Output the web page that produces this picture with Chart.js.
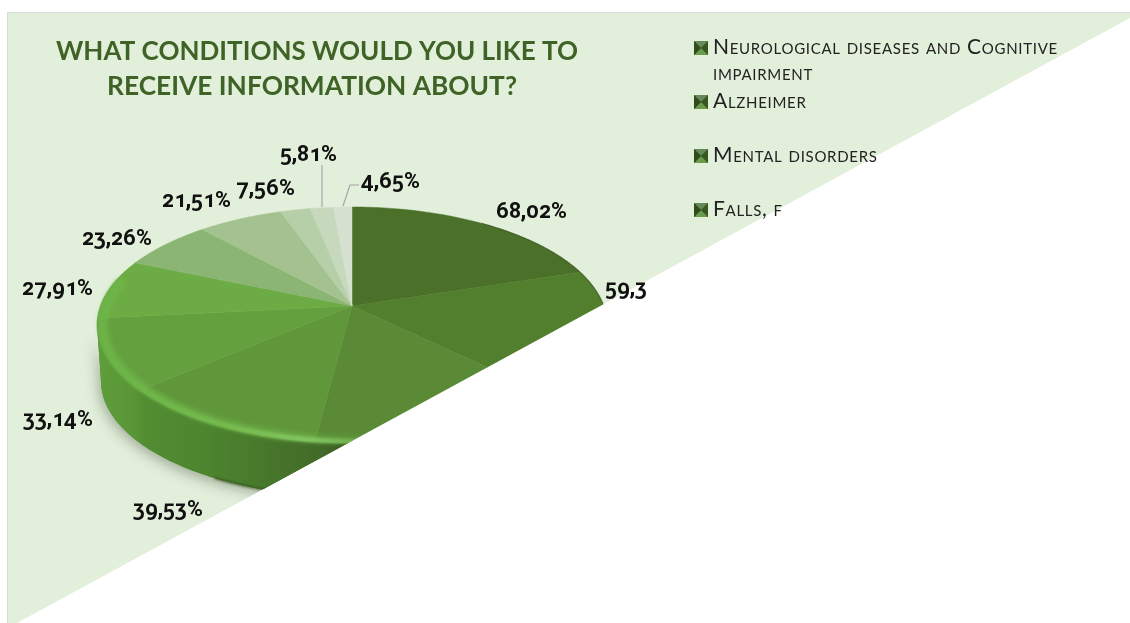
<!DOCTYPE html>
<html>
<head>
<meta charset="utf-8">
<style>
  html, body { margin: 0; padding: 0; background: #fff; }
  canvas { display: block; }
  @font-face {
    font-family: "LabelFigures";
    src: local("Roboto Bold"), local("Roboto-Bold"), local("Open Sans Bold"), local("OpenSans-Bold");
    font-weight: bold;
    font-feature-settings: "onum" 1;
  }
</style>
</head>
<body>
<canvas id="chart" width="1130" height="623"></canvas>
<script src="https://cdn.jsdelivr.net/npm/chart.js@4/dist/chart.umd.min.js"></script>
<script>
// Survey shares, clockwise from twelve o'clock.
const sliceValues = [68.02, 59.3, 49.5, 39.53, 33.14, 27.91, 23.26, 21.51, 7.56, 5.81, 4.65];
const valueLabels = ['68,02%', '59,3', '', '39,53%', '33,14%', '27,91%', '23,26%', '21,51%', '7,56%', '5,81%', '4,65%'];
const sliceColors = ['#4a7029', '#527f2e', '#5a8a36', '#60973a', '#65a03f', '#6dac44',
                     '#8bb573', '#a4c28f', '#b6cfa8', '#c7d9bd', '#d6e0d1'];
const legendLines = [
  { text: 'Neurological diseases and Cognitive', slice: 0, baseline: 54 },
  { text: 'impairment', slice: -1, baseline: 80 },
  { text: 'Alzheimer', slice: 1, baseline: 108 },
  { text: 'Mental disorders', slice: 2, baseline: 162 },
  { text: 'Falls, f', slice: 3, baseline: 216 }
];
const titleLines = ['WHAT CONDITIONS WOULD YOU LIKE TO', 'RECEIVE INFORMATION ABOUT?'];

// Placement of the annotations around the pie (centre of each value label).
const labelCentres = [[531, 212], [626, 289], null, [168, 510], [58, 420], [57, 289],
                      [117, 239], [196, 201], [265, 189], [308, 155], [390, 182]];
const leaderLines = [
  [[322, 165], [322, 207]],
  [[359, 185], [350, 185], [343, 206]]
];

// Panel: a right-angled wedge whose long side is the diagonal.
const panel = [[7, 12], [1130, 12], [1130, 18], [17, 623], [7, 623]];

// Perspective disc: the top face is an ellipse; the hub sits above its centre.
const disc = { cx: 352, cy: 325, rx: 255, ry: 118, k: -0.161 };
const base = { cx: 352, cy: 381, rx: 251, ry: 116 };

function project(angle) {
  const u = Math.cos(angle), v = Math.sin(angle);
  const d = 1 + disc.k * v, s = Math.sqrt(1 - disc.k * disc.k);
  return [disc.cx + disc.rx * u * s / d, disc.cy + disc.ry * (v + disc.k) / d];
}
const hub = () => [disc.cx, disc.cy + disc.ry * disc.k];

function tracePanel(ctx) {
  ctx.beginPath();
  panel.forEach((p, i) => i ? ctx.lineTo(p[0], p[1]) : ctx.moveTo(p[0], p[1]));
  ctx.closePath();
}

function ellipsePoints(e, from, to, scale) {
  const pts = [], n = 160, f = scale || 1;
  for (let i = 0; i <= n; i++) {
    const a = from + (to - from) * i / n;
    pts.push([e.cx + e.rx * f * Math.cos(a), e.cy + e.ry * f * Math.sin(a)]);
  }
  return pts;
}

function tracePoints(ctx, pts) {
  ctx.beginPath();
  pts.forEach((p, i) => i ? ctx.lineTo(p[0], p[1]) : ctx.moveTo(p[0], p[1]));
}

function drawSide(ctx) {
  const outline = ellipsePoints(base, Math.PI, 0).concat(ellipsePoints(disc, 0, Math.PI));
  // soft contact shadow under the rim
  ctx.save();
  ctx.shadowColor = 'rgba(70,80,60,0.42)';
  ctx.shadowBlur = 13;
  ctx.shadowOffsetX = -2;
  ctx.shadowOffsetY = 4;
  ctx.fillStyle = '#4f8430';
  tracePoints(ctx, outline);
  ctx.closePath();
  ctx.fill();
  ctx.restore();

  const g = ctx.createLinearGradient(97, 0, 345, 0);
  g.addColorStop(0, '#5f9e3a');
  g.addColorStop(0.15, '#5a9637');
  g.addColorStop(0.19, '#528d32');
  g.addColorStop(0.45, '#4d842e');
  g.addColorStop(0.7, '#47762b');
  g.addColorStop(0.9, '#426a28');
  g.addColorStop(1, '#3a5c22');
  ctx.fillStyle = g;
  tracePoints(ctx, outline);
  ctx.closePath();
  ctx.fill();

  // the lower edge darkens towards the table
  ctx.save();
  ctx.filter = 'blur(1px)';
  ctx.strokeStyle = 'rgba(45,75,25,0.75)';
  ctx.lineWidth = 2;
  tracePoints(ctx, ellipsePoints(base, 2.15, 1.25));
  ctx.stroke();
  ctx.restore();
}

function drawRim(ctx) {
  const wash = ctx.createLinearGradient(97, 0, 400, 0);
  wash.addColorStop(0, 'rgba(112,184,74,0.75)');
  wash.addColorStop(0.6, 'rgba(116,190,80,0.55)');
  wash.addColorStop(0.8, 'rgba(116,190,80,0.3)');
  wash.addColorStop(1, 'rgba(116,190,80,0)');
  const core = ctx.createLinearGradient(97, 0, 400, 0);
  core.addColorStop(0, '#6cb247');
  core.addColorStop(0.4, '#74ba4e');
  core.addColorStop(0.68, '#82c560');
  core.addColorStop(0.85, 'rgba(130,197,96,0.55)');
  core.addColorStop(1, 'rgba(130,197,96,0)');
  ctx.save();
  ctx.lineCap = 'round';
  ctx.filter = 'blur(2px)';
  ctx.strokeStyle = wash;
  ctx.lineWidth = 9;
  tracePoints(ctx, ellipsePoints(disc, Math.PI * 1.12, Math.PI * 0.42, 0.975));
  ctx.stroke();
  ctx.filter = 'blur(1px)';
  ctx.strokeStyle = core;
  ctx.lineWidth = 5;
  tracePoints(ctx, ellipsePoints(disc, Math.PI * 1.12, Math.PI * 0.42, 0.985));
  ctx.stroke();
  ctx.restore();

  // thin dark outline where the far right edge turns away
  ctx.strokeStyle = 'rgba(50,80,30,0.6)';
  ctx.lineWidth = 1.2;
  tracePoints(ctx, ellipsePoints(disc, -Math.PI * 0.33, 0.1, 1));
  ctx.stroke();
}

function drawSlice(ctx, arc) {
  const { startAngle, endAngle } = arc.getProps(['startAngle', 'endAngle'], true);
  const h = hub();
  ctx.beginPath();
  ctx.moveTo(h[0], h[1]);
  const steps = Math.max(4, Math.ceil((endAngle - startAngle) * 60));
  for (let i = 0; i <= steps; i++) {
    const p = project(startAngle + (endAngle - startAngle) * i / steps);
    ctx.lineTo(p[0], p[1]);
  }
  ctx.closePath();
  ctx.fillStyle = arc.options.backgroundColor;
  ctx.strokeStyle = arc.options.backgroundColor;
  ctx.lineWidth = 0.5;
  ctx.fill();
  ctx.stroke();
}

function drawMarker(ctx, x, y, s) {
  const m = [x + s / 2, y + s / 2];
  const facet = (a, b, fill) => {
    ctx.fillStyle = fill;
    ctx.beginPath();
    ctx.moveTo(a[0], a[1]);
    ctx.lineTo(b[0], b[1]);
    ctx.lineTo(m[0], m[1]);
    ctx.closePath();
    ctx.fill();
  };
  ctx.fillStyle = '#4a7034';
  ctx.fillRect(x, y, s, s);
  facet([x, y], [x + s, y], '#66895a');
  facet([x, y + s], [x + s, y + s], '#6a9c4c');
  facet([x, y], [x, y + s], '#2f4d1b');
  facet([x + s, y], [x + s, y + s], '#38581f');
}

const perspectivePie = {
  id: 'perspectivePie',
  beforeDraw(chart) {
    const ctx = chart.ctx;
    ctx.save();
    ctx.fillStyle = '#e2efda';
    tracePanel(ctx);
    ctx.fill();
    ctx.strokeStyle = '#d9d9d9';
    ctx.lineWidth = 1;
    ctx.beginPath();
    ctx.moveTo(7.5, 623);
    ctx.lineTo(7.5, 12.5);
    ctx.lineTo(1130, 12.5);
    ctx.stroke();
    ctx.restore();
  },
  beforeDatasetDraw(chart, args) {
    const ctx = chart.ctx;
    ctx.save();
    tracePanel(ctx);
    ctx.clip();
    drawSide(ctx);
    args.meta.data.forEach(arc => drawSlice(ctx, arc));
    drawRim(ctx);
    ctx.restore();
    return false;
  },
  afterDraw(chart) {
    const ctx = chart.ctx;
    ctx.save();

    // title
    ctx.textAlign = 'center';
    ctx.textBaseline = 'alphabetic';
    ctx.fillStyle = '#3f6326';
    ctx.font = 'bold 27px Lato';
    ctx.fillText(titleLines[0], 317, 60, 522);
    ctx.fillText(titleLines[1], 312, 95, 410);

    // leader lines
    ctx.strokeStyle = '#a6a6a6';
    ctx.lineWidth = 1.2;
    leaderLines.forEach(line => {
      tracePoints(ctx, line);
      ctx.stroke();
    });

    // value labels
    ctx.fillStyle = '#111';
    ctx.textBaseline = 'middle';
    ctx.font = 'bold 21.5px LabelFigures, Lato';
    valueLabels.forEach((text, i) => {
      if (text) ctx.fillText(text, labelCentres[i][0], labelCentres[i][1]);
    });

    // legend
    ctx.textAlign = 'left';
    ctx.textBaseline = 'alphabetic';
    ctx.font = 'small-caps 21px Lato';
    ctx.letterSpacing = '0.7px';
    legendLines.forEach(line => {
      if (line.slice >= 0) drawMarker(ctx, 694, line.baseline - 13, 14);
      ctx.fillStyle = '#222';
      ctx.fillText(line.text, 713, line.baseline);
    });
    ctx.restore();
  }
};

const chart = new Chart(document.getElementById('chart'), {
  type: 'pie',
  data: {
    labels: valueLabels,
    datasets: [{ data: sliceValues, backgroundColor: sliceColors, borderWidth: 0 }]
  },
  options: {
    responsive: false,
    animation: false,
    plugins: { legend: { display: false }, title: { display: false }, tooltip: { enabled: false } }
  },
  plugins: [perspectivePie]
});

// Repaint once the label face has been resolved.
document.fonts.load('bold 21.5px LabelFigures').then(() => chart.draw());
</script>
</body>
</html>
